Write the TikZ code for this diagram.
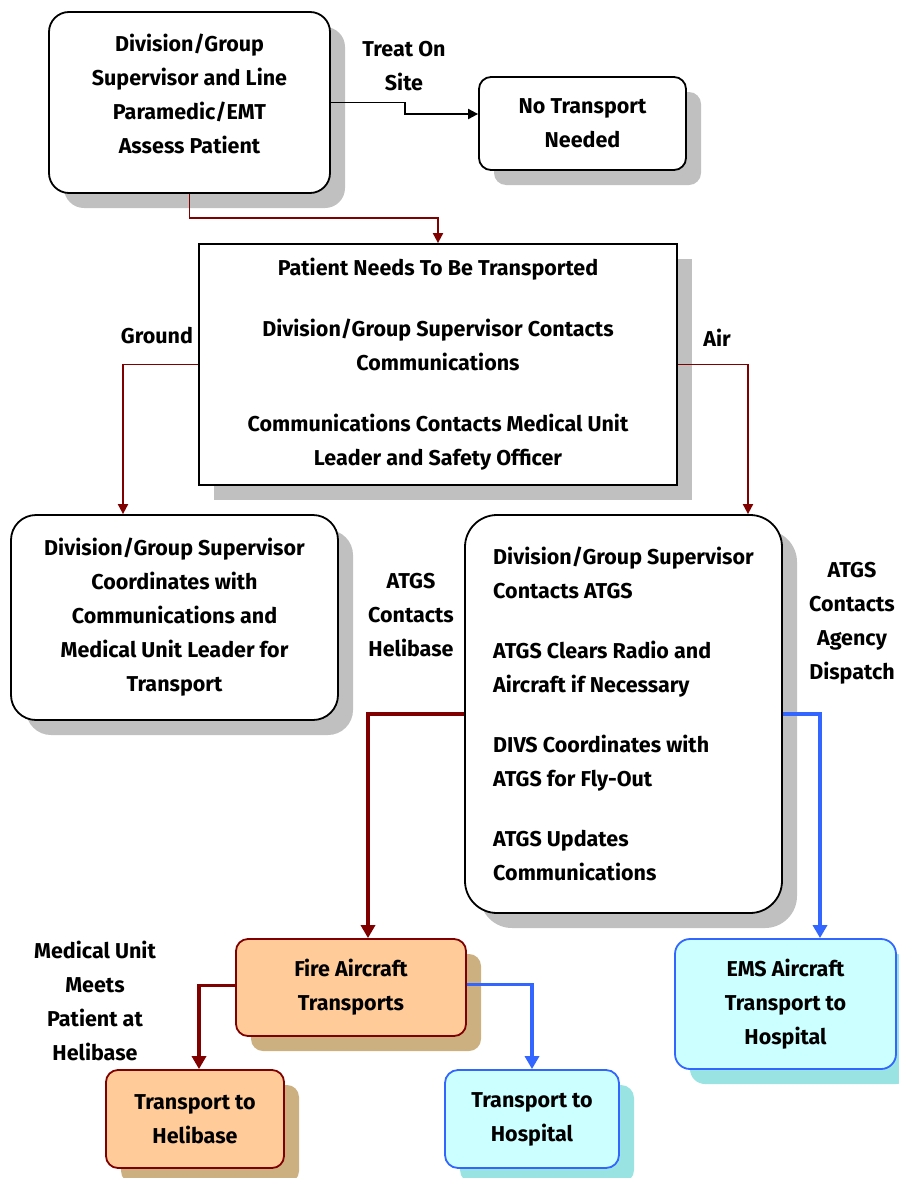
\documentclass[tikz,border=0pt]{standalone}
\usepackage{fontspec}
\setmainfont{Fira Sans}
\usetikzlibrary{shadows,arrows.meta}
\definecolor{shgray}{HTML}{C0C0C0}
\definecolor{dred}{HTML}{800000}
\definecolor{peach}{HTML}{FFCC99}
\definecolor{tan}{HTML}{CCB07F}
\definecolor{lcyan}{HTML}{CCFFFF}
\definecolor{cshadow}{HTML}{99E3E3}
\definecolor{bblue}{HTML}{3366FF}
\tikzset{
  txt/.style={font=\bfseries\fontsize{21.5}{34}\selectfont, align=center, inner sep=0pt},
  box/.style={txt, draw=black, line width=1.8pt, fill=white,
    drop shadow={shadow xshift=15pt, shadow yshift=-15pt, fill=shgray, opacity=1}},
  firebox/.style={txt, draw=dred, line width=1.8pt, fill=peach, rounded corners=12pt,
    drop shadow={shadow xshift=15pt, shadow yshift=-15pt, fill=tan, opacity=1}},
  cyanbox/.style={txt, draw=bblue, line width=1.8pt, fill=lcyan, rounded corners=13pt,
    drop shadow={shadow xshift=15pt, shadow yshift=-15pt, fill=cshadow, opacity=1}},
  thinblk/.style={draw=black, line width=1.9pt, -{Triangle[width=10pt,length=10pt]}},
  thinred/.style={draw=dred, line width=1.9pt, -{Triangle[width=10pt,length=10pt]}},
  thickred/.style={draw=dred, line width=3.5pt, -{Triangle[width=14pt,length=13pt]}},
  thickblue/.style={draw=bblue, line width=3.5pt, -{Triangle[width=14pt,length=13pt]}},
}
\begin{document}
\begin{tikzpicture}[x=1pt,y=-1pt]
\useasboundingbox (0,0) rectangle (899,1178);
\node[box, rounded corners=20pt, minimum width=281pt, minimum height=181pt, text depth=17pt] (box1) at (189.5,102.5)
  {Division/Group\\Supervisor and Line\\Paramedic/EMT\\Assess Patient};
\node[box, rounded corners=12pt, minimum width=207pt, minimum height=93pt] (notrans) at (582.5,123.5)
  {No Transport\\Needed};
\node[box, minimum width=478pt, minimum height=241pt] (mid) at (438,364.5)
  {Patient Needs To Be Transported\\[27pt]Division/Group Supervisor Contacts\\Communications\\[27pt]Communications Contacts Medical Unit\\Leader and Safety Officer};
\node[box, rounded corners=25pt, minimum width=327pt, minimum height=205pt] (left) at (174.5,617.5)
  {Division/Group Supervisor\\Coordinates with\\Communications and\\Medical Unit Leader for\\Transport};
\node[box, align=left, rounded corners=32pt, minimum width=317pt, minimum height=398pt] (right) at (623.5,714)
  {Division/Group Supervisor\\Contacts ATGS\\[26pt]ATGS Clears Radio and\\Aircraft if Necessary\\[26pt]DIVS Coordinates with\\ATGS for Fly-Out\\[26pt]ATGS Updates\\Communications};
\node[firebox, minimum width=230pt, minimum height=97pt] (fire) at (351,987.5)
  {Fire Aircraft\\Transports};
\node[firebox, minimum width=178pt, minimum height=98pt] (heli) at (195,1119)
  {Transport to\\Helibase};
\node[cyanbox, minimum width=174pt, minimum height=98pt] (hosp) at (532,1119)
  {Transport to\\Hospital};
\node[cyanbox, rounded corners=15pt, minimum width=221pt, minimum height=130pt] (ems) at (785.5,1004)
  {EMS Aircraft\\Transport to\\Hospital};
% labels
\node[txt] (ltreat) at (404,66) {Treat On\\Site};
\node[txt] (lground) at (157,336) {Ground};
\node[txt] (lair) at (717,338) {Air};
\node[txt] (lheli) at (411,615) {ATGS\\Contacts\\Helibase};
\node[txt] (lagency) at (852,623) {ATGS\\Contacts\\Agency\\Dispatch};
\node[txt] (lmed) at (95,1001) {Medical Unit\\Meets\\Patient at\\Helibase};
% connectors
\draw[thinblk] (box1.east) -- (box1.east -| 405,0) |- ([yshift=9.5pt]notrans.west);
\draw[thinred] (box1.south) -- (box1.south |- 0,218) -| (mid.north);
\draw[thinred] (mid.west) -| (left.north -| 123,0);
\draw[thinred] (mid.east) -| (right.north -| 748,0);
\draw[thickred] (right.west) -| (fire.north -| 368,0);
\draw[thickblue] (right.east) -| (ems.north -| 820,0);
\draw[thickred] ([yshift=2pt]fire.west) -| (heli.north -| 199,0);
\draw[thickblue] ([yshift=3pt]fire.east) -| (hosp.north);
\end{tikzpicture}
\end{document}
